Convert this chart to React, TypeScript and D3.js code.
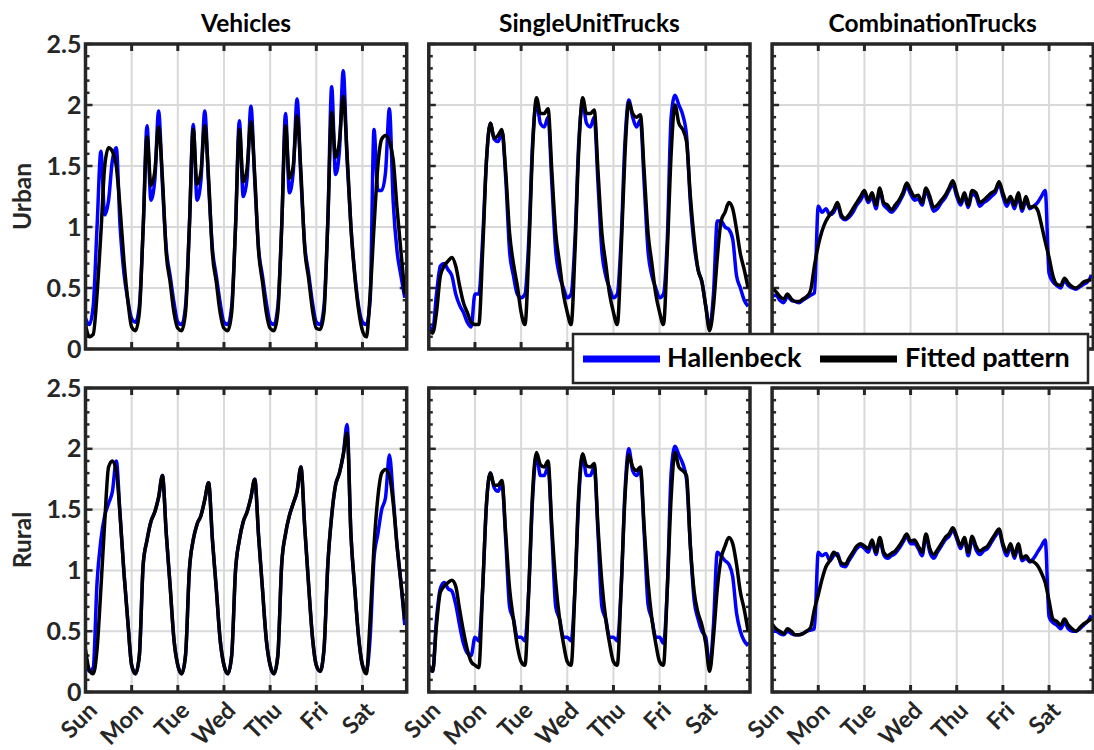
import React from 'react';
import * as d3 from 'd3';

// ---------------- DATA ----------------
const days = ['Sun', 'Mon', 'Tue', 'Wed', 'Thu', 'Fri', 'Sat'];
const vehicleClasses = ['Vehicles', 'SingleUnitTrucks', 'CombinationTrucks'];
const areaTypes = ['Urban', 'Rural'];
const yTickValues = [0, 0.5, 1, 1.5, 2, 2.5];
const yTickLabels = ['0', '0.5', '1', '1.5', '2', '2.5'];
const seriesNames = ['Hallenbeck', 'Fitted pattern'];
// sample hours (every 2 h over one week)
const hours = d3.range(0, 168, 2);

const urbanVehiclesHallenbeck = [
  0.25, 0.2, 0.35, 1.0, 1.62, 1.1, 1.22, 1.55, 1.65, 1.0, 0.62, 0.4,
  0.25, 0.22, 0.35, 1.0, 1.83, 1.22, 1.38, 1.95, 1.35, 0.82, 0.6, 0.38,
  0.22, 0.2, 0.35, 1.0, 1.84, 1.22, 1.38, 1.95, 1.35, 0.82, 0.6, 0.38,
  0.22, 0.2, 0.35, 1.0, 1.87, 1.25, 1.4, 1.99, 1.38, 0.82, 0.6, 0.38,
  0.22, 0.2, 0.35, 1.0, 1.93, 1.28, 1.45, 2.05, 1.4, 0.85, 0.62, 0.38,
  0.22, 0.2, 0.35, 1.05, 2.15, 1.43, 1.62, 2.28, 1.55, 1.0, 0.62, 0.35,
  0.22, 0.2, 0.4, 1.8, 1.3, 1.3, 1.45, 1.97, 1.2, 0.8, 0.6, 0.42,
];
const urbanVehiclesFitted = [
  0.2, 0.1, 0.12, 0.45, 0.95, 1.5, 1.65, 1.62, 1.5, 1.15, 0.72, 0.4,
  0.18, 0.15, 0.3, 1.0, 1.74, 1.34, 1.45, 1.82, 1.4, 0.78, 0.55, 0.3,
  0.17, 0.15, 0.3, 1.0, 1.8, 1.35, 1.45, 1.83, 1.4, 0.78, 0.55, 0.3,
  0.17, 0.15, 0.3, 1.0, 1.8, 1.37, 1.48, 1.86, 1.42, 0.8, 0.55, 0.3,
  0.17, 0.15, 0.3, 1.0, 1.83, 1.4, 1.5, 1.91, 1.45, 0.82, 0.58, 0.32,
  0.17, 0.16, 0.3, 1.05, 1.94, 1.57, 1.7, 2.07, 1.6, 1.0, 0.6, 0.32,
  0.15, 0.1, 0.45, 1.0, 1.5, 1.72, 1.75, 1.7, 1.55, 1.15, 0.8, 0.45,
];
const ruralVehiclesHallenbeck = [
  0.3, 0.17, 0.2, 0.9, 1.25, 1.45, 1.55, 1.65, 1.9, 1.45, 0.98, 0.58,
  0.22, 0.15, 0.3, 1.05, 1.25, 1.4, 1.48, 1.6, 1.78, 1.3, 0.87, 0.43,
  0.22, 0.15, 0.3, 1.0, 1.25, 1.38, 1.45, 1.58, 1.72, 1.25, 0.85, 0.43,
  0.22, 0.15, 0.3, 1.0, 1.25, 1.4, 1.48, 1.6, 1.75, 1.28, 0.85, 0.43,
  0.22, 0.15, 0.3, 1.05, 1.3, 1.45, 1.55, 1.65, 1.85, 1.35, 0.88, 0.45,
  0.22, 0.17, 0.35, 1.05, 1.45, 1.7, 1.8, 1.95, 2.2, 1.3, 0.85, 0.45,
  0.22, 0.17, 0.45, 1.1, 1.3, 1.5, 1.6, 1.95, 1.6, 1.2, 0.9, 0.55,
];
const ruralVehiclesFitted = [
  0.35, 0.18, 0.15, 0.35, 0.85, 1.4, 1.85, 1.9, 1.82, 1.45, 0.98, 0.58,
  0.22, 0.15, 0.3, 1.05, 1.25, 1.4, 1.48, 1.6, 1.78, 1.3, 0.87, 0.43,
  0.22, 0.15, 0.3, 1.0, 1.25, 1.38, 1.45, 1.58, 1.72, 1.25, 0.85, 0.43,
  0.22, 0.15, 0.3, 1.0, 1.25, 1.4, 1.48, 1.6, 1.75, 1.28, 0.85, 0.43,
  0.22, 0.15, 0.3, 1.05, 1.3, 1.45, 1.55, 1.65, 1.85, 1.35, 0.88, 0.45,
  0.22, 0.17, 0.35, 1.05, 1.45, 1.7, 1.8, 1.95, 2.13, 1.3, 0.85, 0.45,
  0.22, 0.15, 0.6, 1.2, 1.6, 1.8, 1.83, 1.78, 1.55, 1.2, 0.9, 0.6,
];
const urbanSingleUnitHallenbeck = [
  0.2, 0.15, 0.45, 0.68, 0.7, 0.65, 0.6, 0.45, 0.36, 0.3, 0.22, 0.18,
  0.45, 0.45, 0.9, 1.55, 1.85, 1.72, 1.7, 1.78, 1.4, 0.8, 0.6, 0.45,
  0.42, 0.45, 0.9, 1.7, 2.02, 1.85, 1.82, 1.9, 1.35, 0.8, 0.6, 0.5,
  0.42, 0.45, 0.9, 1.7, 2.02, 1.85, 1.82, 1.9, 1.35, 0.8, 0.6, 0.5,
  0.42, 0.45, 0.9, 1.7, 2.04, 1.9, 1.82, 1.88, 1.35, 0.8, 0.6, 0.5,
  0.42, 0.45, 0.9, 1.9, 2.08, 2.0, 1.92, 1.75, 1.2, 0.85, 0.65, 0.55,
  0.35, 0.18, 0.45, 1.05, 1.05, 1.0, 0.98, 0.9, 0.6, 0.5, 0.4, 0.35,
];
const urbanSingleUnitFitted = [
  0.16, 0.13, 0.3, 0.6, 0.68, 0.72, 0.75, 0.68, 0.52, 0.38, 0.3, 0.22,
  0.2, 0.2, 0.8, 1.55, 1.85, 1.73, 1.75, 1.8, 1.45, 0.95, 0.7, 0.52,
  0.3, 0.2, 0.8, 1.65, 2.06, 1.93, 1.93, 1.97, 1.45, 0.95, 0.7, 0.45,
  0.3, 0.2, 0.8, 1.65, 2.06, 1.93, 1.93, 1.96, 1.45, 0.95, 0.7, 0.45,
  0.3, 0.2, 0.8, 1.6, 2.02, 1.93, 1.9, 1.92, 1.45, 0.95, 0.7, 0.45,
  0.3, 0.2, 0.8, 1.6, 2.0, 1.85, 1.8, 1.7, 1.25, 0.9, 0.65, 0.55,
  0.35, 0.15, 0.35, 0.75, 1.05, 1.12, 1.2, 1.15, 0.98, 0.78, 0.65, 0.5,
];
const ruralSingleUnitHallenbeck = [
  0.2, 0.17, 0.6, 0.85, 0.9, 0.85, 0.83, 0.72, 0.55, 0.4, 0.32, 0.3,
  0.45, 0.42, 0.85, 1.55, 1.8, 1.68, 1.65, 1.72, 1.25, 0.7, 0.6, 0.45,
  0.45, 0.42, 0.85, 1.6, 1.95, 1.78, 1.78, 1.85, 1.3, 0.7, 0.6, 0.45,
  0.45, 0.42, 0.85, 1.6, 1.95, 1.78, 1.78, 1.85, 1.3, 0.7, 0.6, 0.45,
  0.45, 0.42, 0.85, 1.65, 2.0, 1.82, 1.78, 1.82, 1.3, 0.72, 0.6, 0.45,
  0.45, 0.4, 0.85, 1.8, 2.02, 1.95, 1.88, 1.75, 1.2, 0.75, 0.6, 0.5,
  0.45, 0.2, 0.55, 1.15, 1.12, 1.08, 1.05, 0.95, 0.65, 0.5, 0.42, 0.38,
];
const ruralSingleUnitFitted = [
  0.22, 0.17, 0.55, 0.82, 0.87, 0.9, 0.92, 0.87, 0.68, 0.5, 0.35, 0.25,
  0.22, 0.2, 0.85, 1.55, 1.8, 1.7, 1.7, 1.74, 1.3, 0.85, 0.6, 0.38,
  0.25, 0.22, 0.85, 1.65, 1.97, 1.87, 1.85, 1.9, 1.35, 0.9, 0.6, 0.4,
  0.25, 0.22, 0.85, 1.65, 1.96, 1.86, 1.85, 1.88, 1.35, 0.9, 0.6, 0.4,
  0.25, 0.22, 0.85, 1.6, 1.95, 1.85, 1.82, 1.85, 1.35, 0.9, 0.6, 0.4,
  0.25, 0.22, 0.85, 1.6, 1.97, 1.85, 1.82, 1.78, 1.2, 0.82, 0.65, 0.55,
  0.4, 0.17, 0.45, 0.85, 1.1, 1.2, 1.27, 1.22, 1.05, 0.82, 0.68, 0.5,
];
const urbanCombinationHallenbeck = [
  0.43, 0.44, 0.4, 0.38, 0.43, 0.4, 0.39, 0.38, 0.4, 0.42, 0.44, 0.46,
  1.17, 1.12, 1.15, 1.1, 1.12, 1.18, 1.08, 1.06, 1.08, 1.12, 1.18, 1.22,
  1.27, 1.2, 1.25, 1.15, 1.3, 1.18, 1.15, 1.12, 1.15, 1.2, 1.26, 1.33,
  1.27, 1.22, 1.23, 1.18, 1.3, 1.22, 1.13, 1.15, 1.2, 1.24, 1.3, 1.35,
  1.25, 1.18, 1.25, 1.16, 1.27, 1.25, 1.17, 1.2, 1.22, 1.25, 1.28, 1.35,
  1.25, 1.17, 1.23, 1.15, 1.25, 1.13, 1.22, 1.15, 1.17, 1.2, 1.25, 1.3,
  0.62, 0.55, 0.52, 0.5, 0.56, 0.52, 0.5, 0.49, 0.51, 0.53, 0.55, 0.6,
];
const urbanCombinationFitted = [
  0.5, 0.47, 0.43, 0.41, 0.45, 0.41, 0.39, 0.39, 0.41, 0.43, 0.48, 0.68,
  0.85, 0.97, 1.05, 1.1, 1.14, 1.2, 1.1, 1.07, 1.1, 1.15, 1.2, 1.25,
  1.3, 1.22, 1.28, 1.18, 1.32, 1.2, 1.18, 1.14, 1.18, 1.22, 1.28, 1.36,
  1.3, 1.25, 1.26, 1.2, 1.32, 1.25, 1.16, 1.18, 1.22, 1.26, 1.32, 1.38,
  1.28, 1.2, 1.28, 1.18, 1.3, 1.28, 1.2, 1.22, 1.25, 1.28, 1.3, 1.37,
  1.28, 1.2, 1.25, 1.18, 1.28, 1.15, 1.25, 1.16, 1.17, 1.14, 1.02, 0.88,
  0.75, 0.6, 0.53, 0.52, 0.58, 0.54, 0.51, 0.5, 0.52, 0.55, 0.56, 0.57,
];
const ruralCombinationHallenbeck = [
  0.5, 0.5, 0.48, 0.47, 0.5, 0.48, 0.47, 0.47, 0.48, 0.5, 0.51, 0.52,
  1.15, 1.12, 1.14, 1.08, 1.12, 1.14, 1.04, 1.03, 1.08, 1.13, 1.18, 1.2,
  1.18, 1.15, 1.23, 1.13, 1.25, 1.13, 1.1, 1.12, 1.14, 1.18, 1.23, 1.28,
  1.22, 1.22, 1.18, 1.12, 1.28, 1.15, 1.1, 1.15, 1.2, 1.25, 1.28, 1.33,
  1.26, 1.18, 1.25, 1.12, 1.26, 1.17, 1.13, 1.16, 1.18, 1.23, 1.28, 1.32,
  1.2, 1.12, 1.2, 1.1, 1.2, 1.08, 1.1, 1.07, 1.1, 1.15, 1.2, 1.25,
  0.62, 0.57, 0.55, 0.52, 0.57, 0.52, 0.5, 0.5, 0.52, 0.55, 0.58, 0.63,
];
const ruralCombinationFitted = [
  0.56, 0.52, 0.5, 0.48, 0.52, 0.5, 0.47, 0.47, 0.48, 0.5, 0.53, 0.68,
  0.8, 0.93, 1.03, 1.08, 1.15, 1.12, 1.06, 1.05, 1.1, 1.15, 1.2, 1.22,
  1.2, 1.18, 1.25, 1.15, 1.27, 1.15, 1.12, 1.14, 1.16, 1.2, 1.25, 1.3,
  1.24, 1.25, 1.2, 1.15, 1.3, 1.18, 1.13, 1.17, 1.22, 1.27, 1.3, 1.35,
  1.28, 1.2, 1.27, 1.15, 1.28, 1.2, 1.16, 1.18, 1.2, 1.25, 1.3, 1.34,
  1.22, 1.15, 1.22, 1.12, 1.22, 1.1, 1.12, 1.08, 1.07, 1.04, 0.98, 0.9,
  0.75, 0.6, 0.58, 0.55, 0.6, 0.55, 0.52, 0.5, 0.53, 0.56, 0.58, 0.6,
];

const panelSeries = [
  [
    [urbanVehiclesHallenbeck, urbanVehiclesFitted],
    [urbanSingleUnitHallenbeck, urbanSingleUnitFitted],
    [urbanCombinationHallenbeck, urbanCombinationFitted],
  ],
  [
    [ruralVehiclesHallenbeck, ruralVehiclesFitted],
    [ruralSingleUnitHallenbeck, ruralSingleUnitFitted],
    [ruralCombinationHallenbeck, ruralCombinationFitted],
  ],
];

// ---------------- LAYOUT ----------------
const W = 1094;
const H = 750;
const colLeft = [85.5, 428.8, 772.1];
const plotW = 321.2;
const rowTop = [44, 388];
const plotH = [305, 304];
const FONT = 'Lato, "Open Sans", sans-serif';
const AX = '#262626';
const GRID = '#d9d9d9';
const seriesColors = ['#0000ff', '#000000'];

function Panel({ row, col }: { row: number; col: number }) {
  const left = colLeft[col];
  const top = rowTop[row];
  const h = plotH[row];
  const x = d3.scaleLinear().domain([0, 167]).range([left, left + plotW]);
  const y = d3.scaleLinear().domain([0, 2.5]).range([top + h, top]);
  const line = d3
    .line<number>()
    .x((_, i) => x(hours[i]))
    .y((d) => y(d))
    .curve(d3.curveMonotoneX);
  const clipId = `clip-${row}-${col}`;
  const dayTicks = days.map((_, i) => i * 24);
  const minor = d3.range(0, 26).map((i) => i / 10);
  return (
    <g>
      <defs>
        <clipPath id={clipId}>
          <rect x={left} y={top} width={plotW} height={h} />
        </clipPath>
      </defs>
      <rect x={left} y={top} width={plotW} height={h} fill="#fff" />
      {/* grid */}
      {dayTicks.slice(1).map((t) => (
        <line key={'gx' + t} x1={x(t)} x2={x(t)} y1={top} y2={top + h} stroke={GRID} strokeWidth={2} />
      ))}
      {yTickValues.slice(1, -1).map((t) => (
        <line key={'gy' + t} x1={left} x2={left + plotW} y1={y(t)} y2={y(t)} stroke={GRID} strokeWidth={2} />
      ))}
      {/* ticks */}
      {dayTicks.slice(1).map((t) => (
        <g key={'tx' + t}>
          <line x1={x(t)} x2={x(t)} y1={top} y2={top + 7} stroke={AX} strokeWidth={3} />
          <line x1={x(t)} x2={x(t)} y1={top + h} y2={top + h - 7} stroke={AX} strokeWidth={3} />
        </g>
      ))}
      {minor.map((t, i) => {
        const len = i % 5 === 0 ? 7 : 4;
        return (
          <g key={'ty' + i}>
            <line x1={left} x2={left + len} y1={y(t)} y2={y(t)} stroke={AX} strokeWidth={2.5} />
            <line x1={left + plotW} x2={left + plotW - len} y1={y(t)} y2={y(t)} stroke={AX} strokeWidth={2.5} />
          </g>
        );
      })}
      {/* series */}
      <g clipPath={`url(#${clipId})`}>
        {panelSeries[row][col].map((s, k) => (
          <path key={k} d={line(s) || ''} fill="none" stroke={seriesColors[k]} strokeWidth={3.5} strokeLinejoin="round" />
        ))}
      </g>
      {/* frame */}
      <rect x={left} y={top} width={plotW} height={h} fill="none" stroke={AX} strokeWidth={3.5} />
      {/* title */}
      {row === 0 && (
        <text x={left + plotW / 2} y={32} textAnchor="middle" fontFamily={FONT} fontWeight={700} fontSize={24.5} fill="#000">
          {vehicleClasses[col]}
        </text>
      )}
      {/* y tick labels */}
      {col === 0 &&
        yTickValues.map((t, i) => (
          <text key={'yl' + i} x={left - 4} y={y(t) + 8.5} textAnchor="end" fontFamily={FONT} fontWeight={700} fontSize={25} fill={AX}>
            {yTickLabels[i]}
          </text>
        ))}
      {col === 0 && (
        <text
          transform={`translate(31,${top + h / 2}) rotate(-90)`}
          textAnchor="middle"
          fontFamily={FONT}
          fontWeight={700}
          fontSize={24.5}
          fill={AX}
        >
          {areaTypes[row]}
        </text>
      )}
      {/* x tick labels */}
      {row === 1 &&
        dayTicks.map((t, i) => (
          <text
            key={'xl' + i}
            transform={`translate(${x(t) + 13},${top + h + 20}) rotate(-45)`}
            textAnchor="end"
            fontFamily={FONT}
            fontWeight={700}
            fontSize={23.5}
            fill={AX}
          >
            {days[i]}
          </text>
        ))}
    </g>
  );
}

function Legend() {
  const lx = 573;
  const ly = 334;
  return (
    <g>
      <rect x={lx} y={ly} width={515} height={49} fill="#fff" stroke={AX} strokeWidth={2.5} />
      <line x1={583} x2={660} y1={359} y2={359} stroke={seriesColors[0]} strokeWidth={7} />
      <text x={667} y={367} fontFamily={FONT} fontWeight={700} fontSize={27} fill="#000">
        {seriesNames[0]}
      </text>
      <line x1={820} x2={897} y1={359} y2={359} stroke={seriesColors[1]} strokeWidth={7} />
      <text x={905} y={367} fontFamily={FONT} fontWeight={700} fontSize={27} fill="#000">
        {seriesNames[1]}
      </text>
    </g>
  );
}

export default function App() {
  return (
    <svg
      width={W}
      height={H}
      viewBox={`0 0 ${W} ${H}`}
      style={{ position: 'absolute', left: 0, top: 0, background: '#fff' }}
    >
      <rect x={0} y={0} width={W} height={H} fill="#fff" />
      {[0, 1].map((r) => [0, 1, 2].map((c) => <Panel key={`${r}-${c}`} row={r} col={c} />))}
      <Legend />
    </svg>
  );
}
